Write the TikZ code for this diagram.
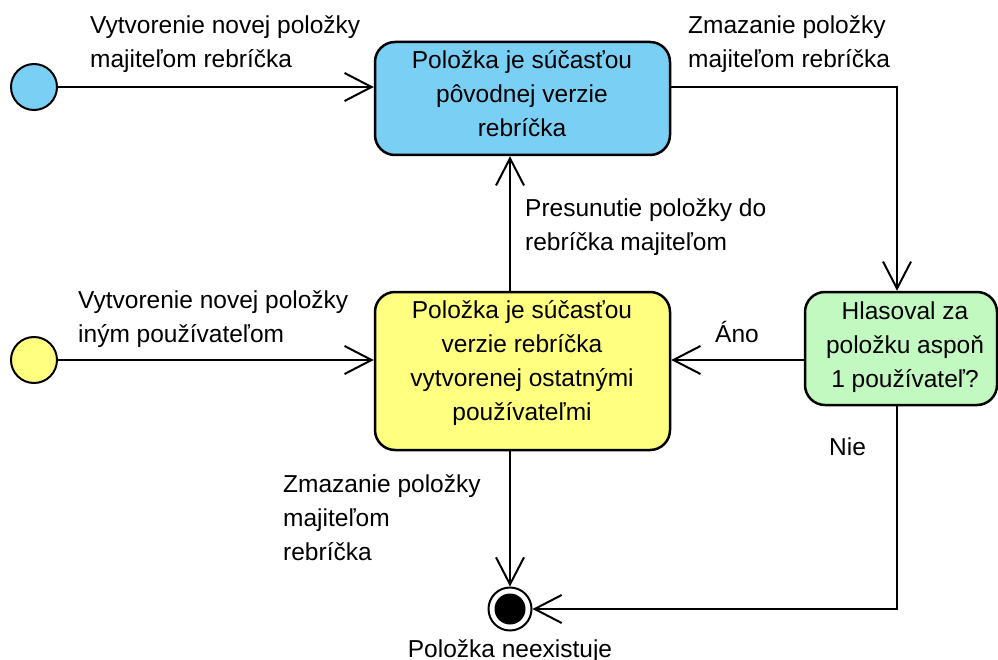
\documentclass[tikz,border=0pt]{standalone}
\usepackage{fontspec}
\setmainfont{Liberation Sans}
\usetikzlibrary{arrows.meta}
\definecolor{blueF}{RGB}{122,207,245}
\definecolor{yellowF}{RGB}{255,255,128}
\definecolor{greenF}{RGB}{193,249,193}
\begin{document}
\begin{tikzpicture}[x=1pt,y=-1pt,
 conn/.style={line width=2pt, -{Straight Barb[length=27pt,width=28pt,line width=2pt]}},
 state/.style={draw, line width=2.5pt, rounded corners=20pt, inner sep=0pt},
 lbl/.style={align=left, anchor=base west, inner sep=0pt, font=\fontsize{24.5}{34}\selectfont},
 ctext/.style={align=center, anchor=base, inner sep=0pt, font=\fontsize{24.5}{34}\selectfont},
 init/.style={circle, draw, line width=2pt, minimum size=46pt, inner sep=0pt}]
\useasboundingbox (0,0) rectangle (998,660);

% states (text nodes anchored at the baseline of their last line)
\node[state, fill=blueF, minimum width=295pt, minimum height=113pt] (blue) at (522.5,98.5) {};
\node[ctext] (bluetxt) at (522,137) {Položka je súčasťou\\pôvodnej verzie\\rebríčka};

\node[state, fill=yellowF, minimum width=295pt, minimum height=158pt] (yellow) at (522.5,371) {};
\node[ctext] (yellowtxt) at (522,420) {Položka je súčasťou\\verzie rebríčka\\vytvorenej ostatnými\\používateľmi};

\node[state, fill=greenF, minimum width=192pt, minimum height=113pt] (green) at (901,348.5) {};
\node[ctext] (greentxt) at (905,387) {Hlasoval za\\položku aspoň\\1 používateľ?};

% initial and final
\node[init, fill=blueF] (init1) at (34,87) {};
\node[init, fill=yellowF] (init2) at (34,360) {};
\node[circle, draw, line width=2pt, minimum size=43pt, inner sep=0pt] (endn) at (510,609) {};
\node[circle, fill=black, minimum size=31pt, inner sep=0pt] (enddot) at (510,609) {};
\node[ctext] (endlbl) at (510,657) {Položka neexistuje};

% helper coordinates
\coordinate (turn1) at (897,87);
\coordinate (turn2) at (897,609);

% connectors
\draw[conn] (init1) -- (init1 -| blue.west);
\draw[conn] (init2) -- (init2 -| yellow.west);
\draw[conn] (blue.east |- turn1) -- (turn1) -- (turn1 |- green.north);
\draw[conn] (green.west |- init2) -- (yellow.east |- init2);
\draw[conn] (yellow.north -| endn) -- (blue.south -| endn);
\draw[conn] (yellow.south -| endn) -- (endn.north);
\draw[conn] (turn2 |- green.south) -- (turn2) -- (endn.east);

% labels
\node[lbl] (l1) at (90,68) {Vytvorenie novej položky\\majiteľom rebríčka};
\node[lbl] (l2) at (688,68) {Zmazanie položky\\majiteľom rebríčka};
\node[lbl] (l3) at (525,251) {Presunutie položky do\\rebríčka majiteľom};
\node[lbl] (l4) at (78,342) {Vytvorenie novej položky\\iným používateľom};
\node[lbl] (l5) at (715,342) {Áno};
\node[lbl] (l6) at (829,455) {Nie};
\node[lbl] (l7) at (283,560) {Zmazanie položky\\majiteľom\\rebríčka};
\end{tikzpicture}
\end{document}
